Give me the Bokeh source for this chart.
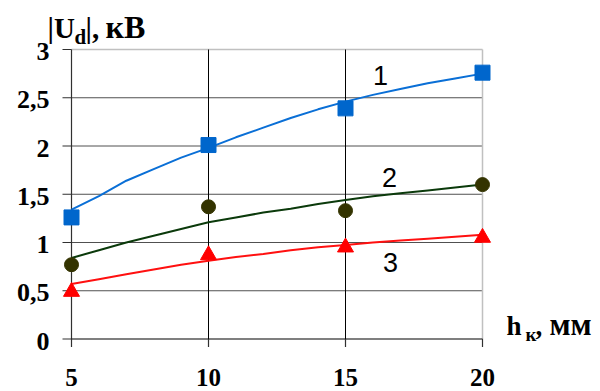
import math
from bokeh.plotting import figure
from bokeh.models import Range1d, Label
from bokeh.core.properties import value
from bokeh.embed import file_html
from bokeh.resources import INLINE

# --- data -----------------------------------------------------------------
x_ticks = [5, 10, 15, 20]
y_ticks = [0, 0.5, 1, 1.5, 2, 2.5, 3]
x_tick_labels = ["5", "10", "15", "20"]
y_tick_labels = ["0", "0,5", "1", "1,5", "2", "2,5", "3"]

# measured points
h_pts = [5, 10, 15, 20]
u1_pts = [1.26, 2.01, 2.39, 2.76]
u2_pts = [0.77, 1.37, 1.33, 1.60]
u3_pts = [0.49, 0.87, 0.95, 1.05]

# approximating curves
h_fit = [5, 6, 7, 8, 9, 10, 11, 12, 13, 14, 15, 16, 17, 18, 19, 20]
u1_fit = [1.34, 1.48, 1.64, 1.76, 1.88, 1.98, 2.09, 2.19, 2.29, 2.38, 2.46, 2.53, 2.59, 2.65, 2.70, 2.75]
u2_fit = [0.84, 0.92, 1.00, 1.07, 1.14, 1.21, 1.26, 1.31, 1.35, 1.40, 1.44, 1.48, 1.51, 1.54, 1.57, 1.60]
u3_fit = [0.57, 0.62, 0.67, 0.72, 0.77, 0.81, 0.85, 0.88, 0.92, 0.95, 0.975, 1.00, 1.02, 1.04, 1.06, 1.08]

# --- layout -----------------------------------------------------------------
W, H = 600, 391
PX_L, PX_R = 71, 482      # pixel columns of x = 5 and x = 20
PY_0, PY_3 = 338.5, 49    # pixel rows of y = 0 and y = 3

sx = (x_ticks[-1] - x_ticks[0]) / (PX_R - PX_L)
sy = (y_ticks[-1] - y_ticks[0]) / (PY_0 - PY_3)
x_range = Range1d(x_ticks[0] - PX_L * sx, x_ticks[-1] + (W - PX_R) * sx)
y_range = Range1d(y_ticks[0] - (H - PY_0) * sy, y_ticks[0] + PY_0 * sy)

p = figure(width=W, height=H, x_range=x_range, y_range=y_range,
           min_border=0, toolbar_location=None, output_backend="svg",
           x_axis_location=None, y_axis_location=None,
           outline_line_color=None, background_fill_color="white",
           border_fill_color="white")
p.grid.visible = False

SERIF = "'Liberation Serif', 'Times New Roman', serif"
SANS = "'Liberation Sans', Arial, sans-serif"

xmin, xmax = x_ticks[0], x_ticks[-1]
ymin, ymax = y_ticks[0], y_ticks[-1]

# horizontal gridlines
inner_y = y_ticks[1:-1]
p.segment(x0=[xmin] * len(inner_y), y0=inner_y, x1=[xmax] * len(inner_y), y1=inner_y,
          line_color="#505050", line_width=1)
# top and right frame edges
p.segment(x0=[xmin], y0=[ymax], x1=[xmax], y1=[ymax], line_color="#c0c0c0", line_width=1.5)
p.segment(x0=[xmax], y0=[ymin], x1=[xmax], y1=[ymax], line_color="#c0c0c0", line_width=1.5)
# vertical gridlines
inner_x = x_ticks[1:-1]
p.segment(x0=inner_x, y0=[ymin] * len(inner_x), x1=inner_x, y1=[ymax] * len(inner_x),
          line_color="black", line_width=1)
# axis lines
p.segment(x0=[xmin], y0=[ymin], x1=[xmin], y1=[ymax], line_color="#303030", line_width=1.2)
p.segment(x0=[xmin], y0=[ymin], x1=[xmax], y1=[ymin], line_color="black", line_width=1.2)
# tick marks
p.ray(x=[xmin] * len(y_ticks), y=y_ticks, length=9, length_units="screen",
      angle=math.pi, line_color="#303030", line_width=1.2)
p.ray(x=x_ticks, y=[ymin] * len(x_ticks), length=8, length_units="screen",
      angle=-math.pi / 2, line_color="#303030", line_width=1.2)

# tick labels
p.text(x=[xmin] * len(y_ticks), y=y_ticks, text=y_tick_labels, x_offset=-22, y_offset=2,
       text_align="right", text_baseline="middle", text_font=value(SERIF),
       text_font_style="bold", text_font_size="26px", text_color="black")
p.text(x=x_ticks, y=[ymin] * len(x_ticks), text=x_tick_labels, x_offset=0, y_offset=38,
       text_align="center", text_baseline="middle", text_font=value(SERIF),
       text_font_style="bold", text_font_size="25px", text_color="black")

# curves
p.line(h_fit, u1_fit, line_color="#0a6fd6", line_width=2)
p.line(h_fit, u2_fit, line_color="#0b3a0b", line_width=2)
p.line(h_fit, u3_fit, line_color="#ff1010", line_width=2)

# markers
p.scatter(h_pts, u1_pts, marker="square", size=15, fill_color="#0066cc", line_color="#0066cc")
p.scatter(h_pts, u2_pts, marker="circle", size=14, fill_color="#333300", line_color="#333300")
p.scatter(h_pts, u3_pts, marker="triangle", size=16, fill_color="#ff0000", line_color="#ff0000")


def label(txt, x, y, size, font, bold=True, align="left", baseline="middle"):
    p.add_layout(Label(x=x, y=H - y, x_units="screen", y_units="screen", text=txt,
                       text_font=font, text_font_size=size,
                       text_font_style="bold" if bold else "normal",
                       text_align=align, text_baseline=baseline, text_color="black"))


# y-axis title |U_d|, кВ
label("|U", 47, 27, "29px", SERIF)
label("d", 74, 36, "21px", SERIF)
label("|,", 85, 27, "29px", SERIF)
label("кВ", 105, 26, "32px", SERIF)
# x-axis title h_к, мм
label("h", 506, 325, "27px", SERIF)
label("к", 525, 334, "19px", SERIF)
label(",", 535, 325, "27px", SERIF)
label("мм", 549, 324, "31px", SERIF)

# curve numbers
label("1", 380, 75, "27px", SANS, bold=False, align="center")
label("2", 389, 177, "27px", SANS, bold=False, align="center")
label("3", 390, 262, "27px", SANS, bold=False, align="center")

open("out.html", "w").write(file_html(p, INLINE))
